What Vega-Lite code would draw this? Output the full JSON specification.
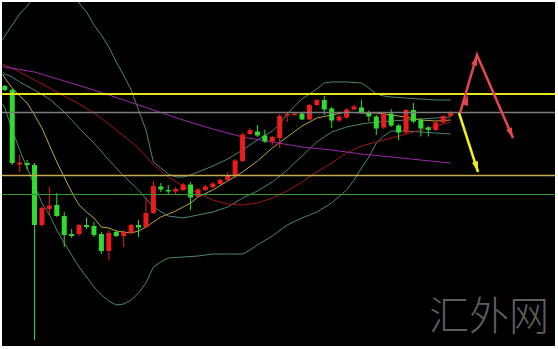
{
"$schema": "https://vega.github.io/schema/vega-lite/v6.json",
"width": 553, "height": 344,
"autosize": {"type": "none"},
"padding": {"left": 2, "top": 2, "right": 3, "bottom": 3},
"background": "#ffffff",
"config": {"view": {"fill": "#000000", "stroke": null}},
"datasets": {
"candles": [
{"i":0,"open":1.2414,"high":1.2415,"low":1.2409,"close":1.2410},
{"i":1,"open":1.2410,"high":1.2412,"low":1.2335,"close":1.2337},
{"i":2,"open":1.23355,"high":1.2345,"low":1.2328,"close":1.23375},
{"i":3,"open":1.2337,"high":1.2340,"low":1.2330,"close":1.2335},
{"i":4,"open":1.2335,"high":1.2337,"low":1.2160,"close":1.2275},
{"i":5,"open":1.2275,"high":1.2294,"low":1.2273,"close":1.2292},
{"i":6,"open":1.2291,"high":1.2313,"low":1.2285,"close":1.22945},
{"i":7,"open":1.2295,"high":1.2307,"low":1.2283,"close":1.2284},
{"i":8,"open":1.2284,"high":1.2288,"low":1.2253,"close":1.2265},
{"i":9,"open":1.2266,"high":1.2271,"low":1.2262,"close":1.2264},
{"i":10,"open":1.2266,"high":1.2276,"low":1.2264,"close":1.2275},
{"i":11,"open":1.2275,"high":1.2282,"low":1.2271,"close":1.2273},
{"i":12,"open":1.2274,"high":1.2278,"low":1.2263,"close":1.2265},
{"i":13,"open":1.2266,"high":1.2268,"low":1.2246,"close":1.2249},
{"i":14,"open":1.2249,"high":1.2270,"low":1.2240,"close":1.2267},
{"i":15,"open":1.2268,"high":1.2270,"low":1.2263,"close":1.2264},
{"i":16,"open":1.2264,"high":1.2270,"low":1.2253,"close":1.2268},
{"i":17,"open":1.22675,"high":1.2276,"low":1.2266,"close":1.2275},
{"i":18,"open":1.2275,"high":1.2280,"low":1.2263,"close":1.22725},
{"i":19,"open":1.2273,"high":1.2302,"low":1.2272,"close":1.2287},
{"i":20,"open":1.2287,"high":1.2319,"low":1.2286,"close":1.2314},
{"i":21,"open":1.23135,"high":1.2317,"low":1.2308,"close":1.23105},
{"i":22,"open":1.2310,"high":1.2315,"low":1.2305,"close":1.23085},
{"i":23,"open":1.23085,"high":1.2313,"low":1.2305,"close":1.2311},
{"i":24,"open":1.2310,"high":1.2317,"low":1.2309,"close":1.23155},
{"i":25,"open":1.23155,"high":1.2318,"low":1.2290,"close":1.23025},
{"i":26,"open":1.23035,"high":1.2312,"low":1.2302,"close":1.23105},
{"i":27,"open":1.2310,"high":1.2315,"low":1.2309,"close":1.23135},
{"i":28,"open":1.2313,"high":1.2318,"low":1.2312,"close":1.23165},
{"i":29,"open":1.2316,"high":1.2321,"low":1.2315,"close":1.2320},
{"i":30,"open":1.2320,"high":1.2328,"low":1.2319,"close":1.2325},
{"i":31,"open":1.23245,"high":1.2341,"low":1.2324,"close":1.23395},
{"i":32,"open":1.2339,"high":1.2367,"low":1.2338,"close":1.23655},
{"i":33,"open":1.2366,"high":1.2372,"low":1.2365,"close":1.2370},
{"i":34,"open":1.23685,"high":1.2375,"low":1.2363,"close":1.23645},
{"i":35,"open":1.23645,"high":1.2370,"low":1.2357,"close":1.23585},
{"i":36,"open":1.23585,"high":1.2364,"low":1.2355,"close":1.2363},
{"i":37,"open":1.2362,"high":1.2386,"low":1.2352,"close":1.2384},
{"i":38,"open":1.23845,"high":1.2388,"low":1.2378,"close":1.2386},
{"i":39,"open":1.2385,"high":1.2388,"low":1.2384,"close":1.23865},
{"i":40,"open":1.23865,"high":1.2388,"low":1.2380,"close":1.23805},
{"i":41,"open":1.23805,"high":1.2396,"low":1.2380,"close":1.2395},
{"i":42,"open":1.2395,"high":1.2401,"low":1.2394,"close":1.2400},
{"i":43,"open":1.2400,"high":1.2404,"low":1.2385,"close":1.23905},
{"i":44,"open":1.23915,"high":1.2393,"low":1.2372,"close":1.23795},
{"i":45,"open":1.23795,"high":1.2385,"low":1.2378,"close":1.23835},
{"i":46,"open":1.23825,"high":1.2392,"low":1.2381,"close":1.23905},
{"i":47,"open":1.23905,"high":1.2395,"low":1.2390,"close":1.23935},
{"i":48,"open":1.23925,"high":1.2400,"low":1.2386,"close":1.23875},
{"i":49,"open":1.23875,"high":1.23895,"low":1.23785,"close":1.23835},
{"i":50,"open":1.23835,"high":1.2385,"low":1.2365,"close":1.23715},
{"i":51,"open":1.23725,"high":1.2388,"low":1.2371,"close":1.23865},
{"i":52,"open":1.23865,"high":1.2391,"low":1.2373,"close":1.23745},
{"i":53,"open":1.23745,"high":1.2376,"low":1.2360,"close":1.23675},
{"i":54,"open":1.23675,"high":1.2391,"low":1.2366,"close":1.2390},
{"i":55,"open":1.2390,"high":1.2397,"low":1.2377,"close":1.23785},
{"i":56,"open":1.2380,"high":1.2382,"low":1.23635,"close":1.23715},
{"i":57,"open":1.23725,"high":1.2374,"low":1.23635,"close":1.2370},
{"i":58,"open":1.2370,"high":1.2379,"low":1.2369,"close":1.23775},
{"i":59,"open":1.23775,"high":1.2385,"low":1.2377,"close":1.2384},
{"i":60,"open":1.2384,"high":1.2389,"low":1.2383,"close":1.23875}
],
"ind": [
{"s":"upper","i":-0.3,"p":1.2460},{"s":"upper","i":0,"p":1.2464},{"s":"upper","i":1,"p":1.2475},{"s":"upper","i":2,"p":1.2486},{"s":"upper","i":3,"p":1.2494},{"s":"upper","i":4,"p":1.2503},{"s":"upper","i":6,"p":1.2525},{"s":"upper","i":8,"p":1.2515},{"s":"upper","i":9,"p":1.2505},{"s":"upper","i":10,"p":1.2497},{"s":"upper","i":11,"p":1.2488},{"s":"upper","i":12,"p":1.2475},{"s":"upper","i":13,"p":1.2465},{"s":"upper","i":14,"p":1.2453},{"s":"upper","i":15,"p":1.2438},{"s":"upper","i":16,"p":1.2425},{"s":"upper","i":17,"p":1.2410},{"s":"upper","i":18,"p":1.2390},{"s":"upper","i":19,"p":1.2370},{"s":"upper","i":20,"p":1.2338},{"s":"upper","i":21,"p":1.2332},{"s":"upper","i":22,"p":1.2326},{"s":"upper","i":23,"p":1.2323},{"s":"upper","i":24,"p":1.2323},{"s":"upper","i":25,"p":1.2325},{"s":"upper","i":26,"p":1.2328},{"s":"upper","i":28,"p":1.2334},{"s":"upper","i":30,"p":1.2341},{"s":"upper","i":32,"p":1.2350},{"s":"upper","i":34,"p":1.2360},{"s":"upper","i":36,"p":1.2369},{"s":"upper","i":37,"p":1.2376},{"s":"upper","i":38,"p":1.2386},{"s":"upper","i":39,"p":1.2394},{"s":"upper","i":40,"p":1.2401},{"s":"upper","i":41,"p":1.2406},{"s":"upper","i":42,"p":1.2411},{"s":"upper","i":43,"p":1.2417},{"s":"upper","i":44,"p":1.2418},{"s":"upper","i":46,"p":1.2418},{"s":"upper","i":48,"p":1.2417},{"s":"upper","i":49,"p":1.2412},{"s":"upper","i":50,"p":1.2406},{"s":"upper","i":51,"p":1.2404},{"s":"upper","i":52,"p":1.2403},{"s":"upper","i":54,"p":1.2402},{"s":"upper","i":56,"p":1.2401},{"s":"upper","i":58,"p":1.2400},{"s":"upper","i":60,"p":1.2400},
{"s":"middle","i":-0.3,"p":1.2428},{"s":"middle","i":0,"p":1.2426},{"s":"middle","i":1,"p":1.2423},{"s":"middle","i":2,"p":1.2418},{"s":"middle","i":4,"p":1.2410},{"s":"middle","i":6,"p":1.2401},{"s":"middle","i":8,"p":1.2388},{"s":"middle","i":10,"p":1.2372},{"s":"middle","i":12,"p":1.2357},{"s":"middle","i":14,"p":1.2340},{"s":"middle","i":16,"p":1.2324},{"s":"middle","i":18,"p":1.2310},{"s":"middle","i":20,"p":1.2293},{"s":"middle","i":22,"p":1.2284},{"s":"middle","i":24,"p":1.2282},{"s":"middle","i":26,"p":1.2285},{"s":"middle","i":28,"p":1.2288},{"s":"middle","i":30,"p":1.2293},{"s":"middle","i":32,"p":1.2302},{"s":"middle","i":34,"p":1.2309},{"s":"middle","i":36,"p":1.2318},{"s":"middle","i":38,"p":1.2330},{"s":"middle","i":40,"p":1.2344},{"s":"middle","i":42,"p":1.2358},{"s":"middle","i":44,"p":1.2368},{"s":"middle","i":46,"p":1.2373},{"s":"middle","i":48,"p":1.2376},{"s":"middle","i":50,"p":1.2378},{"s":"middle","i":52,"p":1.2379},{"s":"middle","i":54,"p":1.2380},{"s":"middle","i":56,"p":1.2381},{"s":"middle","i":58,"p":1.2382},{"s":"middle","i":60,"p":1.2383},
{"s":"lower","i":-0.3,"p":1.2396},{"s":"lower","i":0,"p":1.2392},{"s":"lower","i":1,"p":1.2370},{"s":"lower","i":2,"p":1.2350},{"s":"lower","i":3,"p":1.2332},{"s":"lower","i":4,"p":1.2315},{"s":"lower","i":5,"p":1.2297},{"s":"lower","i":6,"p":1.2285},{"s":"lower","i":7,"p":1.2270},{"s":"lower","i":8,"p":1.2257},{"s":"lower","i":9,"p":1.2245},{"s":"lower","i":10,"p":1.2233},{"s":"lower","i":11,"p":1.2223},{"s":"lower","i":12,"p":1.2213},{"s":"lower","i":13,"p":1.2205},{"s":"lower","i":14,"p":1.2199},{"s":"lower","i":15,"p":1.2195},{"s":"lower","i":16,"p":1.2196},{"s":"lower","i":17,"p":1.2200},{"s":"lower","i":18,"p":1.2207},{"s":"lower","i":19,"p":1.2217},{"s":"lower","i":20,"p":1.2233},{"s":"lower","i":21,"p":1.2238},{"s":"lower","i":22,"p":1.2242},{"s":"lower","i":24,"p":1.2243},{"s":"lower","i":26,"p":1.2244},{"s":"lower","i":28,"p":1.2246},{"s":"lower","i":30,"p":1.2246},{"s":"lower","i":32,"p":1.2246},{"s":"lower","i":33,"p":1.2250},{"s":"lower","i":34,"p":1.2255},{"s":"lower","i":36,"p":1.2264},{"s":"lower","i":38,"p":1.2275},{"s":"lower","i":40,"p":1.2282},{"s":"lower","i":42,"p":1.2288},{"s":"lower","i":44,"p":1.2297},{"s":"lower","i":46,"p":1.2310},{"s":"lower","i":47,"p":1.2320},{"s":"lower","i":48,"p":1.2332},{"s":"lower","i":49,"p":1.2343},{"s":"lower","i":50,"p":1.2357},{"s":"lower","i":51,"p":1.2364},{"s":"lower","i":52,"p":1.2369},{"s":"lower","i":54,"p":1.2369},{"s":"lower","i":56,"p":1.2368},{"s":"lower","i":58,"p":1.2367},{"s":"lower","i":60,"p":1.2366},
{"s":"fast","i":-0.3,"p":1.2426},{"s":"fast","i":0,"p":1.2422},{"s":"fast","i":1,"p":1.2412},{"s":"fast","i":2,"p":1.2404},{"s":"fast","i":3,"p":1.2397},{"s":"fast","i":4,"p":1.2385},{"s":"fast","i":5,"p":1.2372},{"s":"fast","i":6,"p":1.2355},{"s":"fast","i":7,"p":1.2338},{"s":"fast","i":8,"p":1.2323},{"s":"fast","i":9,"p":1.2308},{"s":"fast","i":10,"p":1.2295},{"s":"fast","i":11,"p":1.2288},{"s":"fast","i":12,"p":1.2282},{"s":"fast","i":13,"p":1.2273},{"s":"fast","i":14,"p":1.2272},{"s":"fast","i":15,"p":1.2269},{"s":"fast","i":16,"p":1.2268},{"s":"fast","i":17,"p":1.2267},{"s":"fast","i":18,"p":1.2269},{"s":"fast","i":19,"p":1.2273},{"s":"fast","i":20,"p":1.2278},{"s":"fast","i":21,"p":1.2283},{"s":"fast","i":22,"p":1.2286},{"s":"fast","i":23,"p":1.2289},{"s":"fast","i":24,"p":1.2293},{"s":"fast","i":25,"p":1.2297},{"s":"fast","i":26,"p":1.2303},{"s":"fast","i":28,"p":1.2310},{"s":"fast","i":30,"p":1.2319},{"s":"fast","i":32,"p":1.2328},{"s":"fast","i":34,"p":1.2339},{"s":"fast","i":36,"p":1.2352},{"s":"fast","i":38,"p":1.2363},{"s":"fast","i":40,"p":1.2374},{"s":"fast","i":42,"p":1.2382},{"s":"fast","i":44,"p":1.2385},{"s":"fast","i":46,"p":1.2388},{"s":"fast","i":48,"p":1.2387},{"s":"fast","i":50,"p":1.2387},{"s":"fast","i":52,"p":1.2385},{"s":"fast","i":54,"p":1.2383},{"s":"fast","i":56,"p":1.2380},{"s":"fast","i":58,"p":1.2379},{"s":"fast","i":60,"p":1.2380},
{"s":"medium","i":-0.3,"p":1.2436},{"s":"medium","i":0,"p":1.2435},{"s":"medium","i":2,"p":1.2428},{"s":"medium","i":4,"p":1.2420},{"s":"medium","i":6,"p":1.2412},{"s":"medium","i":8,"p":1.2404},{"s":"medium","i":10,"p":1.2396},{"s":"medium","i":12,"p":1.2387},{"s":"medium","i":14,"p":1.2376},{"s":"medium","i":16,"p":1.2364},{"s":"medium","i":18,"p":1.2352},{"s":"medium","i":20,"p":1.2335},{"s":"medium","i":22,"p":1.2323},{"s":"medium","i":24,"p":1.2314},{"s":"medium","i":26,"p":1.2307},{"s":"medium","i":28,"p":1.2300},{"s":"medium","i":30,"p":1.2296},{"s":"medium","i":32,"p":1.2295},{"s":"medium","i":34,"p":1.2297},{"s":"medium","i":36,"p":1.2302},{"s":"medium","i":38,"p":1.2309},{"s":"medium","i":40,"p":1.2318},{"s":"medium","i":42,"p":1.2328},{"s":"medium","i":44,"p":1.2337},{"s":"medium","i":46,"p":1.2347},{"s":"medium","i":48,"p":1.2354},{"s":"medium","i":50,"p":1.2358},{"s":"medium","i":52,"p":1.2362},{"s":"medium","i":54,"p":1.2366},{"s":"medium","i":56,"p":1.2370},{"s":"medium","i":58,"p":1.2374},{"s":"medium","i":60,"p":1.2378},
{"s":"slow","i":-0.3,"p":1.2434},{"s":"slow","i":0,"p":1.2433},{"s":"slow","i":4,"p":1.2428},{"s":"slow","i":8,"p":1.2419},{"s":"slow","i":12,"p":1.2410},{"s":"slow","i":16,"p":1.2400},{"s":"slow","i":20,"p":1.2390},{"s":"slow","i":24,"p":1.2380},{"s":"slow","i":28,"p":1.2371},{"s":"slow","i":32,"p":1.2363},{"s":"slow","i":36,"p":1.2358},{"s":"slow","i":40,"p":1.2353},{"s":"slow","i":44,"p":1.2350},{"s":"slow","i":48,"p":1.2346},{"s":"slow","i":52,"p":1.2343},{"s":"slow","i":56,"p":1.2340},{"s":"slow","i":60,"p":1.2337}
],
"levels": [
{"name":"resistance","p":1.2406},
{"name":"pivot","p":1.23875},
{"name":"support","p":1.23245},
{"name":"base","p":1.23055}
],
"arrows": [
{"a":"red","i":61.27,"p":1.2387},{"a":"red","i":63.55,"p":1.2445},{"a":"red","i":68.4,"p":1.2362},
{"a":"yellow","i":61.13,"p":1.2387},{"a":"yellow","i":63.69,"p":1.2328}
],
"heads": [
{"h":"redmid","i":62.1,"p":1.2399},
{"h":"redtop","i":63.32,"p":1.2439},
{"h":"redend","i":68.08,"p":1.23675},
{"h":"yellowend","i":63.45,"p":1.2334}
],
"wm": [{"t":"汇外网","i":65.17,"p":1.2182}]
},
"layer": [
{
"data": {"name": "ind"},
"mark": {"type": "line", "strokeWidth": 1, "clip": true},
"encoding": {
"x": {"field": "i", "type": "quantitative", "scale": {"domain": [-0.377, 74.05], "nice": false, "zero": false, "padding": 0}, "axis": null},
"y": {"field": "p", "type": "quantitative", "scale": {"domain": [1.2154, 1.2498], "nice": false, "zero": false, "padding": 0}, "axis": null},
"color": {"field": "s", "type": "nominal", "legend": null, "scale": {"domain": ["upper","middle","lower","fast","medium","slow"], "range": ["#4a8576","#4a8576","#4a8576","#b8a640","#a31616","#9e28ad"]}}
}
},
{
"data": {"name": "candles"},
"mark": {"type": "rule", "strokeWidth": 1},
"encoding": {
"x": {"field": "i", "type": "quantitative"},
"y": {"field": "low", "type": "quantitative"},
"y2": {"field": "high"},
"color": {"condition": {"test": "datum.close > datum.open", "value": "#ec1c1c"}, "value": "#2edc2e"}
}
},
{
"data": {"name": "candles"},
"mark": {"type": "bar", "width": 5},
"encoding": {
"x": {"field": "i", "type": "quantitative"},
"y": {"field": "open", "type": "quantitative"},
"y2": {"field": "close"},
"color": {"condition": {"test": "datum.close > datum.open", "value": "#ec1c1c"}, "value": "#2edc2e"}
}
},
{
"data": {"name": "levels"},
"mark": {"type": "rule"},
"encoding": {
"y": {"field": "p", "type": "quantitative"},
"color": {"field": "name", "type": "nominal", "legend": null, "scale": {"domain": ["resistance","pivot","support","base"], "range": ["#e6e61a","#7c7c7c","#c8aa50","#2f9a2f"]}},
"strokeWidth": {"field": "name", "type": "nominal", "legend": null, "scale": {"domain": ["resistance","pivot","support","base"], "range": [2,1,2,1]}}
}
},
{
"data": {"name": "arrows"},
"mark": {"type": "line", "strokeWidth": 2.5, "clip": true},
"encoding": {
"x": {"field": "i", "type": "quantitative"},
"y": {"field": "p", "type": "quantitative"},
"detail": {"field": "a"},
"color": {"condition": {"test": "datum.a === 'red'", "value": "#e4484c"}, "value": "#f2f214"}
}
},
{
"data": {"name": "heads"},
"transform": [{"filter": "datum.h === 'redmid'"}],
"mark": {"type": "point", "shape": "M0,-1L0.5,0.7L-0.5,0.7Z", "filled": true, "size": 150, "angle": 16, "color": "#e4484c", "opacity": 1},
"encoding": {"x": {"field": "i", "type": "quantitative"}, "y": {"field": "p", "type": "quantitative"}}
},
{
"data": {"name": "heads"},
"transform": [{"filter": "datum.h === 'redtop'"}],
"mark": {"type": "point", "shape": "M0,-1L0.5,0.7L-0.5,0.7Z", "filled": true, "size": 150, "angle": 16, "color": "#e4484c", "opacity": 1},
"encoding": {"x": {"field": "i", "type": "quantitative"}, "y": {"field": "p", "type": "quantitative"}}
},
{
"data": {"name": "heads"},
"transform": [{"filter": "datum.h === 'redend'"}],
"mark": {"type": "point", "shape": "M0,-1L0.5,0.7L-0.5,0.7Z", "filled": true, "size": 150, "angle": 157, "color": "#e4484c", "opacity": 1},
"encoding": {"x": {"field": "i", "type": "quantitative"}, "y": {"field": "p", "type": "quantitative"}}
},
{
"data": {"name": "heads"},
"transform": [{"filter": "datum.h === 'yellowend'"}],
"mark": {"type": "point", "shape": "M0,-1L0.5,0.7L-0.5,0.7Z", "filled": true, "size": 150, "angle": 162, "color": "#f2f214", "opacity": 1},
"encoding": {"x": {"field": "i", "type": "quantitative"}, "y": {"field": "p", "type": "quantitative"}}
},
{
"data": {"name": "wm"},
"mark": {"type": "text", "font": "Noto Sans CJK SC", "fontSize": 40, "fontWeight": 300, "color": "#5e5e5e", "align": "center", "baseline": "middle"},
"encoding": {
"x": {"field": "i", "type": "quantitative"},
"y": {"field": "p", "type": "quantitative"},
"text": {"field": "t"}
}
}
],
"resolve": {"scale": {"color": "independent", "strokeWidth": "independent"}}
}
